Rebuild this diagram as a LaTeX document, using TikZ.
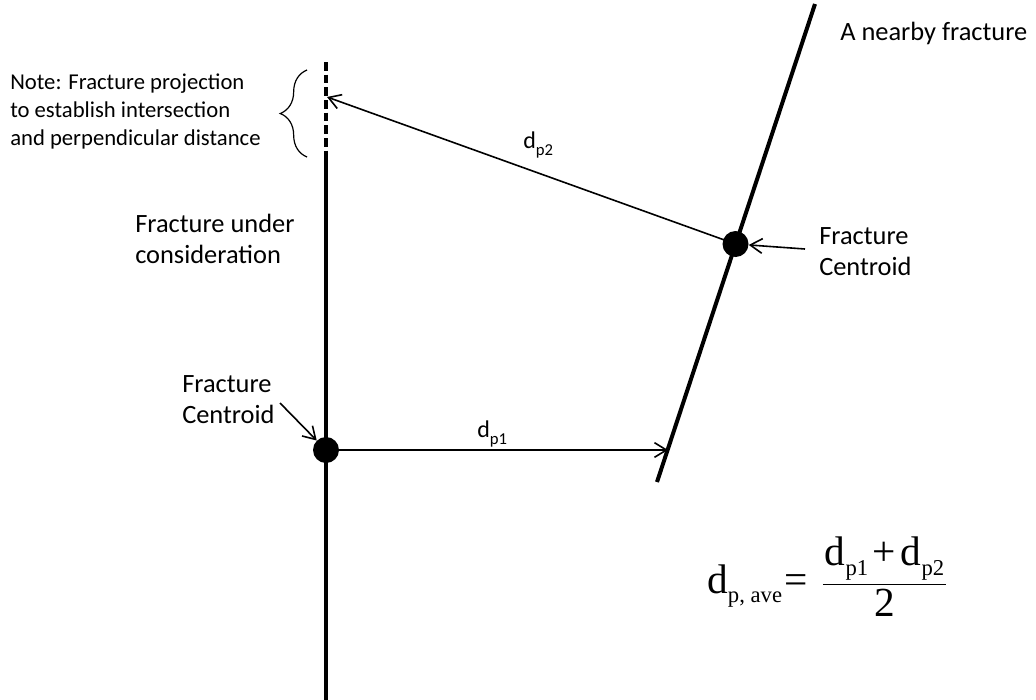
\documentclass[tikz,border=0pt]{standalone}
\usepackage{amsmath}
\usepackage{fontspec}
\setmainfont{Carlito}
\newfontfamily\timesfont{Liberation Serif}
\usetikzlibrary{arrows.meta,positioning,decorations.pathreplacing}
\newcommand\dsub[1]{\raisebox{-0.24em}{\fontsize{17}{17}\selectfont #1}}

\begin{document}
\begin{tikzpicture}[x=0.75pt,y=-0.75pt,
  frac/.style={line width=3pt,black},
  proj/.style={line width=3pt,dash pattern=on 6.5pt off 3pt},
  arr/.style={-{Straight Barb[length=9pt,width=11pt]},line width=1.2pt},
  cent/.style={circle,fill=black,inner sep=0pt,minimum size=19.5pt},
  lab/.style={anchor=north west,inner sep=0pt,align=left,
              font=\fontsize{19.8}{23.5}\selectfont},
  note/.style={anchor=north west,inner sep=0pt,align=left,
               font=\fontsize{17}{21}\selectfont},
  dlab/.style={anchor=base west,inner sep=0pt,
               font=\fontsize{18}{22}\selectfont}]
\useasboundingbox (0,0) rectangle (1036,700);
% fracture under consideration, with its projection
\coordinate (f1top) at (326,62);
\coordinate (f1mid) at (326,155);
\coordinate (f1bot) at (326,700);
\draw[proj] (f1top) -- (f1mid);
\draw[frac] (f1mid) -- (f1bot);
% nearby fracture
\coordinate (f2bot) at (657,482);
\coordinate (f2top) at (815,4);
\draw[frac] (f2bot) -- (f2top);
% centroids
\node[cent] (c1) at (326,450) {};
\node[cent] (c2) at (735.5,244) {};
\coordinate (hit1) at (668,450);
\coordinate (hit2) at (327,97);
\draw[arr] (c1.center) -- (hit1);
\draw[arr] (c2.center) -- (hit2);
\node[dlab] (lp1) at (477,437) {d\raisebox{-0.3em}{\fontsize{12.5}{12.5}\selectfont p1}};
\node[dlab] (lp2) at (523,148) {d\raisebox{-0.3em}{\fontsize{12.5}{12.5}\selectfont p2}};
% labels
\node[lab] (near) at (840,22) {A nearby fracture};
\node[lab] (under) at (135,214) {Fracture under\\consideration};
\node[lab] (cl1) at (182,375) {Fracture\\Centroid};
\node[lab] (cl2) at (819,227) {Fracture\\Centroid};
\coordinate (ptr1) at (280,403);
\coordinate (ptr2) at (805,249);
\draw[arr] (ptr1) -- (c1);
\draw[arr] (ptr2) -- (c2);
% note on the projection
\coordinate (brb) at (307,157);
\coordinate (brt) at (307,70);
\draw[decorate,decoration={brace,amplitude=20pt},line width=0.9pt] (brb) -- (brt);
\node[note] (note) at (10,74) {Note: Fracture projection\\to establish intersection\\and perpendicular distance};
% average distance
\node[anchor=base west,inner sep=0pt,font=\timesfont\fontsize{31}{36}\selectfont] (avg) at (707,593)
  {$\text{d\dsub{p, ave}\kern2pt=}\kern10pt
    \dfrac{\text{\kern1.5pt d\dsub{p1}\kern3.5pt+\kern3.5pt d\dsub{p2}\kern1.5pt}}{\text{2}}$};
\end{tikzpicture}
\end{document}
